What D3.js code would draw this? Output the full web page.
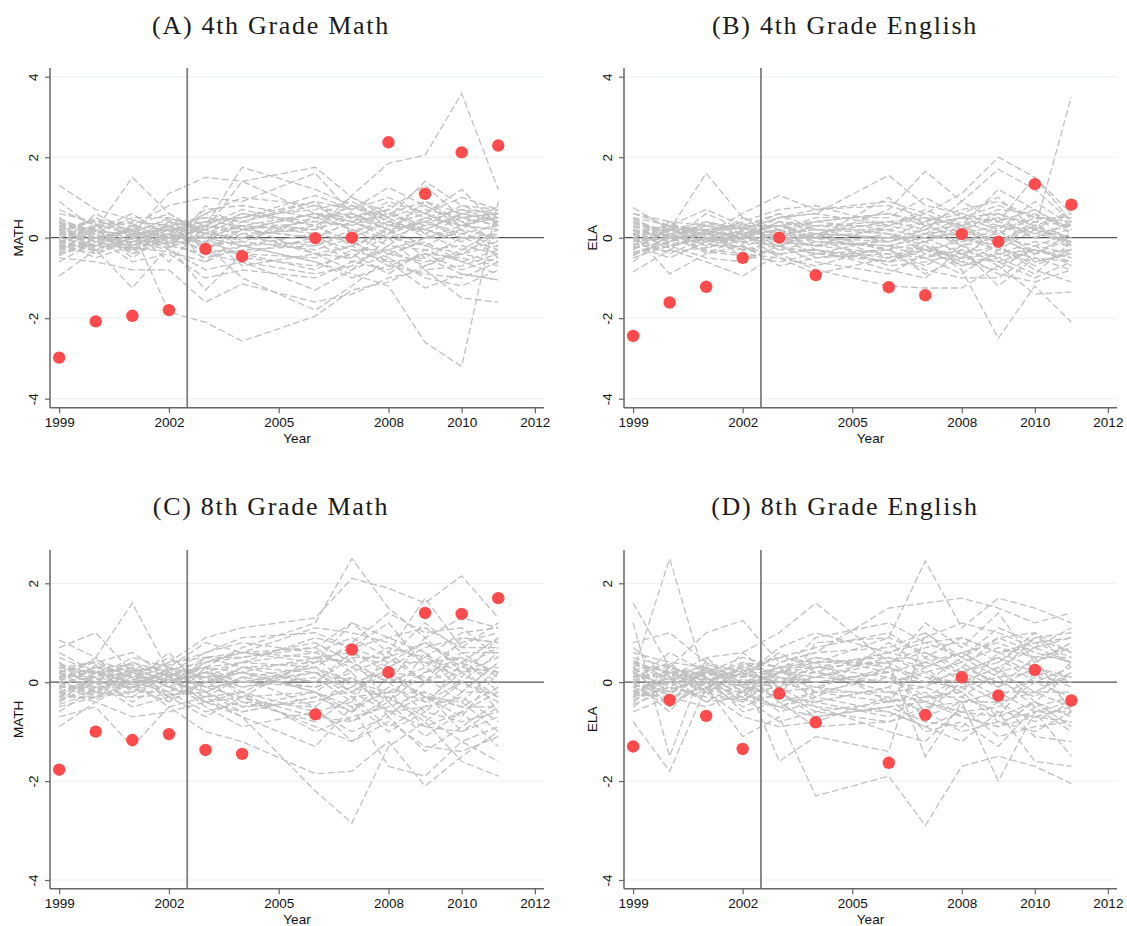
<!DOCTYPE html>
<html>
<head>
<meta charset="utf-8">
<script src="https://cdn.jsdelivr.net/npm/d3@7"></script>
<style>
  html, body { margin: 0; padding: 0; background: #fff; }
  svg { display: block; }
</style>
</head>
<body>
<svg id="chart" width="1127" height="926"></svg>
<script>
// Years observed (no 2005 wave)
const years = [1999, 2000, 2001, 2002, 2003, 2004, 2006, 2007, 2008, 2009, 2010, 2011];
const xTickValues = [1999, 2002, 2005, 2008, 2010, 2012];
const treatmentBreak = 2002.5;

// Treated-unit gaps
const math4Treated = [-2.98, -2.08, -1.94, -1.80, -0.28, -0.46, -0.01, 0.00, 2.37, 1.09, 2.12, 2.29];
const ela4Treated  = [-2.44, -1.61, -1.22, -0.50, 0.00, -0.93, -1.23, -1.43, 0.09, -0.10, 1.33, 0.82];
const math8Treated = [-1.77, -1.00, -1.17, -1.05, -1.37, -1.45, -0.65, 0.66, 0.20, 1.40, 1.38, 1.70];
const ela8Treated  = [-1.30, -0.36, -0.68, -1.35, -0.23, -0.81, -1.63, -0.66, 0.10, -0.27, 0.25, -0.37];

// Placebo (donor-unit) gaps
const math4Placebo = [
  [1.30, 0.70, 0.45, 0.15, 0.40, 0.30, 0.60, 0.50, 0.20, 0.40, 0.10, 0.30],
  [0.90, 0.20, 1.50, 0.60, 0.10, 0.50, 0.90, 0.70, 1.25, 0.80, 0.30, 0.50],
  [-0.95, -0.30, -1.25, -0.20, -1.30, -0.40, -0.80, -0.30, -0.60, -1.25, -0.90, -1.05],
  [0.20, -0.10, 0.20, -1.85, -2.10, -2.57, -1.95, -1.30, -1.10, -0.70, -0.40, -0.60],
  [0.40, 0.10, -0.30, 0.10, 0.30, 1.75, 1.20, 0.80, 0.40, 0.20, 0.60, 0.40],
  [-0.20, 0.30, 0.10, 1.10, 1.50, 1.40, 1.75, 1.00, 0.50, 1.40, 0.80, 0.70],
  [0.10, 0.00, -0.20, 0.30, 0.50, 0.40, 0.20, 1.05, 1.85, 2.05, 3.58, 1.20],
  [0.00, -0.20, 0.10, 0.20, -0.40, -0.20, -0.60, -0.90, -1.20, -2.60, -3.20, 0.90],
  [-0.50, -0.60, -0.80, -0.80, -1.60, -1.15, -1.60, -1.40, -1.00, -0.80, -1.50, -1.60],
  [0.60, 0.40, 0.30, 0.80, 1.00, 0.90, 1.60, 0.60, 0.30, 0.60, 1.20, 0.30],
  [-0.30, 0.20, -0.50, 0.10, -0.20, -1.00, -1.80, -1.20, -0.50, -1.00, -1.20, -0.80],
  [0.30, -0.30, 0.00, 0.40, 0.20, 0.60, 0.40, 0.30, 0.60, 0.30, 0.50, 0.60],
  [-0.10, 0.10, -0.40, -0.10, -0.50, -0.30, -0.20, 0.10, -0.40, -0.10, -0.60, -0.30],
  [0.20, 0.40, 0.20, -0.30, 0.80, 0.20, 0.00, 0.40, 0.10, 0.90, 0.40, -0.10],
  [-0.40, -0.20, 0.30, 0.00, 0.00, -0.50, -0.70, -0.40, -0.90, -0.30, -0.20, -0.40],
  [0.50, 0.00, -0.10, 0.20, 0.30, 0.70, 0.30, 0.80, 0.50, 0.00, 0.30, 0.20],
  [0.00, 0.30, 0.40, 0.30, 0.10, 0.00, 0.50, 0.20, -0.20, 0.50, 0.70, 0.60],
  [-0.20, -0.40, -0.10, -0.30, -0.80, -0.60, -1.30, -0.80, -0.40, -0.60, -0.40, -0.20],
  [0.10, 0.50, 0.00, 0.10, 0.60, 1.00, 0.80, 0.30, 0.70, 1.30, 0.50, 0.30],
  [-0.60, -0.10, -0.30, 0.00, -0.30, 0.10, -0.40, -0.20, 0.20, -0.50, -0.90, -1.05],
  [0.30, 0.10, 0.50, 0.50, 0.20, -0.20, 0.10, -0.50, 0.30, 0.20, -0.10, 0.40],
  [-0.10, -0.50, -0.20, 0.00, -0.10, 0.20, 0.60, 0.40, 0.00, -0.20, 0.20, -0.50],
  [0.70, 0.30, 0.20, -0.20, 0.40, 0.50, 1.05, 0.70, 1.00, 0.60, 1.00, 0.70],
  [-0.30, 0.00, -0.60, -0.40, -1.00, -0.80, -1.00, -0.60, -0.80, -0.40, -0.50, -0.70],
  [0.20, -0.20, 0.30, 0.60, 0.00, 0.30, 0.20, 0.60, 0.20, 0.40, 0.00, 0.10],
  [0.00, 0.20, -0.20, 0.20, 0.20, -0.10, -0.30, 0.00, 0.40, 0.10, -0.30, 0.20],
  [-0.20, 0.60, 0.10, -0.10, 0.60, 0.40, 0.90, 0.10, 0.50, 0.80, 0.40, 0.50],
  [0.40, -0.40, 0.00, 0.30, -0.30, -0.40, 0.00, -0.30, -0.30, 0.00, 0.10, -0.20],
  [0.10, 0.00, 0.20, -0.60, 0.30, 0.20, 0.40, 0.80, 0.30, 0.20, 0.60, 0.40],
  [-0.40, 0.30, -0.30, 0.40, -0.60, 0.00, 0.30, -0.10, -0.60, -0.50, 0.00, 0.00],
  [0.30, 0.20, 0.60, 0.00, 0.20, 1.40, 0.60, 0.40, 0.90, 0.60, 0.20, 0.80],
  [-0.10, -0.30, 0.10, 0.50, 0.10, -0.70, -0.40, -0.80, 0.00, -0.80, -0.70, -0.40],
  [0.15, -0.10, 0.30, 0.20, 0.40, 0.50, 0.70, 0.90, 0.40, 0.70, 0.50, 0.30],
  [-0.25, 0.05, -0.20, 0.10, -0.10, -0.40, -0.50, -0.20, -0.70, -0.40, -0.80, -0.50],
  [0.05, 0.25, -0.05, -0.15, 0.30, 0.10, 0.20, 0.50, 0.80, 0.50, 0.30, 0.60],
  [-0.35, -0.15, 0.05, 0.25, 0.00, -0.20, -0.10, -0.60, -0.30, -0.70, -0.30, -0.10],
  [0.45, 0.15, -0.15, 0.35, 0.50, 0.20, 0.60, 0.20, 0.00, 0.30, 0.80, 0.50],
  [0.00, -0.25, 0.25, -0.05, -0.30, 0.20, 0.00, 0.40, 0.60, 0.20, 0.00, -0.30],
  [-0.15, 0.35, -0.35, 0.05, 0.20, 0.60, 0.30, -0.20, 0.10, 0.50, 0.30, 0.20],
  [0.25, 0.00, 0.15, 0.45, -0.20, -0.10, 0.50, 0.60, 0.20, -0.20, -0.40, 0.10],
  [-0.05, -0.35, 0.00, -0.25, 0.10, 0.30, -0.40, -0.50, 0.10, 0.40, 0.70, 0.40],
  [0.35, 0.20, -0.40, 0.00, 0.70, 0.80, 0.50, 1.00, 0.60, 0.90, 0.60, 0.70],
  [-0.45, 0.00, 0.20, -0.20, -0.40, -0.60, -0.90, -0.70, -0.20, -0.30, -0.60, -0.90],
  [0.10, 0.15, 0.10, 0.05, 0.00, 0.30, 0.10, -0.10, -0.50, 0.00, 0.20, 0.00],
  [-0.30, -0.05, -0.10, 0.30, 0.40, 0.00, -0.20, 0.20, 0.30, 0.60, 0.30, 0.50],
  [0.20, 0.45, 0.35, -0.10, -0.10, 0.40, 0.80, 0.50, 0.70, 0.10, 0.50, 0.60],
  [-0.20, -0.20, -0.25, -0.35, -0.60, -0.20, -0.60, -1.00, -0.70, -0.90, -1.00, -0.60]
];

const ela4Placebo = [
  [0.75, 0.20, 1.60, 0.50, 0.20, 0.40, 0.60, 0.30, 0.50, 0.80, 0.50, 0.30],
  [-0.85, -0.30, -0.60, -0.95, -0.40, -0.80, -1.20, -1.25, -1.25, -0.70, -1.40, -1.35],
  [0.10, -0.90, -0.40, 0.00, 0.20, -0.30, -0.60, -0.20, -0.80, -2.50, -1.20, -2.10],
  [0.20, 0.00, 0.10, 0.60, 1.05, 0.70, 0.90, 0.60, 1.10, 2.00, 1.50, 0.40],
  [0.00, 0.20, 0.40, 0.20, 0.50, 0.60, 1.55, 0.80, 0.60, 1.00, 0.20, 3.50],
  [0.40, 0.10, -0.20, 0.30, 0.30, 0.00, 0.70, 1.65, 0.90, 1.70, 1.20, 0.40],
  [-0.50, -0.20, 0.00, -0.30, -0.20, -0.60, -0.90, -0.40, -0.60, -0.20, -0.80, -1.10],
  [0.60, 0.30, 0.20, 0.00, 0.40, 0.30, 0.40, 0.20, 0.90, 0.40, 0.70, 0.10],
  [-0.20, 0.40, 0.30, 0.10, -0.30, -0.10, -0.20, -0.50, -0.30, -0.60, -0.30, -0.60],
  [0.30, -0.10, 0.60, 0.20, 0.00, -0.40, 0.00, 0.40, -0.20, 0.30, 0.00, 0.20],
  [-0.10, 0.10, -0.20, -0.20, -0.70, -0.50, -0.40, -0.80, -1.00, -1.00, -0.40, -0.30],
  [0.50, 0.00, 0.10, 0.40, 0.70, 0.80, 0.30, 0.60, 0.20, 0.60, 0.30, 0.60],
  [-0.40, -0.20, -0.50, -0.60, -0.20, 0.00, -0.70, -0.60, -0.40, -0.90, -1.10, -0.80],
  [0.00, 0.30, 0.00, -0.10, 0.10, 0.20, 0.20, 0.00, 0.40, 0.10, 0.60, -0.20],
  [0.20, -0.30, 0.20, 0.30, -0.10, 0.10, -0.30, 0.30, 0.00, -0.30, 0.20, 0.00],
  [-0.30, 0.20, -0.10, 0.00, 0.40, -0.20, 0.10, -0.20, -0.50, 0.20, -0.60, -0.40],
  [0.40, 0.00, 0.40, 0.10, 0.20, 0.50, 0.50, 1.00, 0.50, 0.20, 0.90, 0.30],
  [-0.60, 0.10, -0.30, -0.40, -0.50, -0.90, -0.50, -0.30, -0.70, -0.40, -0.30, -0.50],
  [0.10, -0.10, 0.30, 0.20, 0.60, 0.20, -0.10, 0.10, 0.20, 0.50, 0.00, 0.40],
  [-0.20, 0.30, -0.40, -0.20, 0.00, 0.00, 0.20, -0.40, 0.00, -0.20, 0.30, -0.20],
  [0.30, 0.20, 0.10, -0.30, -0.40, -0.30, -0.80, -1.00, -0.30, -1.20, -0.50, -0.60],
  [0.00, -0.40, 0.00, 0.10, 0.30, 0.40, 0.60, 0.40, 0.70, 0.90, 0.50, 0.50],
  [-0.10, 0.10, 0.20, 0.00, -0.10, -0.20, -0.10, 0.20, -0.20, 0.00, -0.20, 0.10],
  [0.60, 0.40, -0.10, 0.50, 0.00, 0.30, 0.10, -0.10, 0.30, -0.10, 0.40, -0.30],
  [-0.40, -0.10, 0.10, -0.10, 0.10, -0.50, -0.30, -0.70, -0.20, -0.50, -0.90, -0.10],
  [0.20, 0.00, -0.30, 0.20, 0.50, 0.60, 0.30, 0.70, 0.30, 1.20, 0.70, 0.20],
  [-0.30, 0.20, 0.20, -0.50, -0.30, -0.30, -0.50, -0.20, -0.60, -0.80, -0.20, -0.70],
  [0.10, -0.20, 0.00, 0.00, 0.00, 0.10, 0.00, 0.00, 0.10, 0.30, 0.10, -0.10],
  [0.50, 0.30, 0.70, 0.30, 0.60, 0.00, 1.00, 0.30, 0.50, 0.40, 1.50, 0.60],
  [-0.20, -0.50, -0.10, 0.10, -0.50, -0.70, -0.20, -0.30, -0.40, -0.20, -0.70, -0.30],
  [0.15, 0.05, -0.10, 0.20, 0.30, 0.10, 0.40, 0.50, 0.30, 0.70, 0.60, 0.20],
  [-0.25, -0.10, 0.20, 0.00, -0.20, -0.40, -0.60, -0.30, -0.50, -0.40, -0.60, -0.40],
  [0.35, 0.20, 0.00, -0.15, 0.20, 0.00, -0.30, -0.10, 0.20, -0.10, 0.30, 0.00],
  [-0.05, -0.25, 0.15, 0.25, 0.00, 0.30, 0.30, 0.50, 0.00, 0.40, 0.10, 0.30],
  [0.25, 0.15, 0.30, -0.05, 0.40, 0.20, 0.10, -0.30, -0.10, 0.10, 0.50, 0.40],
  [-0.45, 0.05, -0.15, -0.30, -0.10, -0.20, -0.40, -0.50, -0.90, -0.30, -0.50, -0.80],
  [0.05, 0.35, 0.05, 0.15, -0.20, 0.10, 0.00, 0.20, 0.30, -0.40, -0.10, -0.20],
  [-0.15, -0.35, -0.25, 0.05, 0.20, -0.10, -0.20, 0.00, -0.40, 0.00, -0.40, 0.10],
  [0.45, 0.10, 0.20, 0.35, 0.10, 0.40, 0.20, 0.40, 0.60, 0.30, 0.20, 0.70],
  [0.00, -0.15, -0.05, -0.25, -0.40, -0.30, -0.60, -0.50, -0.20, -0.70, -0.30, -0.50],
  [-0.30, 0.25, 0.10, 0.10, 0.30, 0.00, -0.10, 0.10, -0.10, 0.20, -0.40, 0.00],
  [0.20, -0.05, 0.35, 0.25, 0.00, -0.20, 0.30, 0.10, 0.50, 0.60, 0.20, -0.10],
  [-0.10, 0.00, -0.35, -0.45, -0.60, -0.40, -0.30, -0.90, -0.50, -0.60, -1.00, -0.60],
  [0.10, 0.30, 0.15, 0.05, 0.50, 0.70, 0.80, 0.50, 0.30, 0.50, 0.40, 0.30],
  [-0.35, -0.20, 0.00, -0.10, -0.20, 0.10, -0.50, -0.10, -0.70, -0.50, -0.20, -0.40]
];

const math8Placebo = [
  [0.85, 0.50, 1.60, 0.20, 0.30, 0.70, 1.20, 2.50, 1.50, 0.90, 1.30, 1.10],
  [0.70, 1.00, 0.20, 0.40, 0.90, 1.10, 1.30, 2.10, 1.90, 1.60, 2.15, 1.30],
  [-0.90, -0.40, -0.70, -0.60, -0.40, -0.70, -2.20, -2.85, -1.30, -0.80, -1.60, -1.90],
  [-0.70, -0.50, -1.30, -0.50, -1.00, -1.20, -1.85, -1.80, -1.20, -2.10, -1.50, -1.00],
  [0.30, 0.40, 0.60, 0.10, 0.50, 0.50, 0.70, 1.20, 0.60, 1.70, 0.70, 1.20],
  [0.00, -0.20, 0.20, -0.10, -0.30, -0.70, -1.30, -0.50, -1.70, -1.90, -1.20, -1.60],
  [-0.20, 0.10, -0.40, 0.00, 0.20, -0.20, 0.40, 0.50, -0.40, 0.60, -0.20, 0.40],
  [0.10, 0.30, 0.10, 0.30, 0.10, 0.40, 0.90, 0.70, 1.20, 0.30, 0.80, 1.00],
  [-0.30, 0.20, 0.00, 0.60, -0.20, 0.10, -0.50, -1.20, -0.60, -0.90, -1.00, -0.50],
  [0.40, -0.20, 0.30, -0.30, 0.00, 0.30, 0.20, -0.20, 0.30, -0.40, 0.20, -0.30],
  [-0.50, -0.30, -0.20, -0.20, -0.60, -0.40, -0.80, -0.30, -0.90, -0.50, -0.30, -0.80],
  [0.20, 0.00, 0.40, 0.20, 0.60, 0.80, 0.60, 0.90, 0.50, 1.20, 0.60, 0.60],
  [0.00, 0.50, -0.10, 0.10, -0.40, -0.60, -0.30, -0.60, 0.10, -0.30, -0.70, 0.20],
  [-0.10, -0.10, 0.30, -0.40, 0.30, 0.00, 0.30, 0.00, -0.20, 0.20, 0.40, 0.00],
  [0.60, 0.20, 0.00, 0.00, 0.40, 0.60, 1.10, 1.00, 0.80, 0.40, 0.50, 0.20],
  [-0.40, 0.00, -0.50, -0.30, -0.70, -0.30, -0.20, -0.80, -0.40, -1.10, -0.60, -1.30],
  [0.20, 0.40, 0.10, 0.50, 0.00, 0.20, -0.20, 0.30, 0.00, -0.60, 0.00, -0.40],
  [0.00, -0.30, 0.20, -0.10, 0.20, -0.10, 0.10, -0.40, 0.60, 0.00, 0.90, 0.80],
  [-0.60, -0.10, -0.10, 0.10, -0.50, -0.90, -0.60, -1.00, -0.70, -1.40, -0.90, -0.40],
  [0.30, 0.10, 0.50, 0.30, 0.80, 0.60, 0.70, 0.20, 0.50, 0.80, 0.30, 0.70],
  [0.10, 0.20, -0.30, 0.20, -0.10, 0.30, 0.00, 0.60, 0.20, 0.10, -0.40, 0.30],
  [-0.20, -0.40, 0.00, -0.20, 0.10, -0.50, -0.40, -0.10, -0.30, -0.80, -0.20, -0.20],
  [0.50, 0.20, 0.30, 0.00, 0.20, 0.40, 0.30, 0.80, 1.40, 1.00, 1.10, 0.50],
  [-0.30, 0.00, 0.00, -0.50, -0.30, -0.20, -1.00, -0.70, -0.50, -0.20, -1.00, -0.70],
  [0.00, 0.10, 0.40, 0.10, 0.30, -0.30, 0.50, -0.10, 0.40, 0.40, 0.10, 0.90],
  [0.20, -0.20, -0.20, 0.30, -0.20, 0.10, -0.10, 0.20, -0.70, 0.00, 0.60, 0.10],
  [-0.10, 0.30, 0.20, -0.10, 0.40, 0.50, 0.80, 0.40, 0.00, 0.90, 0.20, 0.50],
  [0.40, 0.00, -0.10, 0.20, -0.10, 0.00, 0.20, -0.30, -0.20, -0.20, -0.50, -0.10],
  [-0.40, 0.20, 0.10, -0.30, 0.00, -0.40, -0.50, 0.10, -0.60, -0.50, 0.40, -0.60],
  [0.10, -0.10, 0.00, 0.40, 0.50, 0.30, 0.40, 1.20, 0.90, 0.60, 0.00, 0.60],
  [0.15, 0.10, -0.05, 0.25, 0.40, 0.60, 0.50, 0.60, 0.30, 0.70, 0.90, 0.80],
  [-0.25, 0.05, 0.20, -0.10, -0.40, -0.20, -0.60, -0.40, -1.00, -0.60, -0.80, -0.60],
  [0.05, 0.25, 0.00, 0.15, 0.30, 0.40, 0.60, 0.30, 0.70, 0.50, 1.00, 1.10],
  [-0.35, -0.15, 0.10, 0.05, -0.20, -0.50, -0.20, -0.50, -0.20, -0.90, -0.60, -0.20],
  [0.30, 0.20, -0.15, 0.30, 0.10, 0.20, 0.50, 0.40, 0.00, 0.30, -0.20, 0.40],
  [0.00, -0.25, 0.25, 0.00, 0.20, 0.00, -0.10, 0.10, -0.40, 0.20, 0.50, -0.20],
  [-0.15, 0.35, -0.20, 0.10, -0.30, 0.10, 0.30, -0.20, 0.20, -0.30, -0.50, -0.50],
  [0.25, -0.05, 0.15, -0.20, 0.50, 0.60, 0.40, 0.70, 0.40, 0.80, 0.40, 0.90],
  [-0.05, -0.35, 0.05, 0.20, -0.10, -0.30, -0.70, -0.80, -0.30, -0.70, -1.20, -0.90],
  [0.35, 0.15, 0.30, 0.00, 0.30, 0.20, 0.00, 0.50, 0.50, 0.00, 0.30, 0.20],
  [-0.45, -0.20, -0.30, -0.25, -0.20, -0.60, -0.30, -0.20, -0.60, -0.30, -0.40, -1.00],
  [0.10, 0.30, 0.35, 0.10, 0.10, -0.10, 0.20, 0.00, 0.20, 0.50, 0.20, 0.30],
  [-0.20, 0.00, -0.10, -0.40, 0.00, 0.20, -0.20, -0.60, -0.10, -0.40, 0.00, -0.30],
  [0.20, 0.45, 0.20, 0.35, 0.60, 0.90, 1.00, 0.70, 0.90, 1.10, 0.70, 0.70],
  [-0.30, -0.30, 0.00, 0.15, -0.40, -0.30, -0.90, -1.20, -0.80, -1.30, -1.40, -1.10]
];

const ela8Placebo = [
  [1.60, 0.30, 1.00, 1.25, 0.40, 0.60, 1.50, 1.60, 1.70, 1.50, 1.20, 1.40],
  [0.20, 2.50, 0.00, 0.30, 0.20, 0.40, 0.90, 2.45, 1.10, 1.70, 1.50, 1.20],
  [-0.80, -1.80, -0.10, -1.10, -0.70, -2.30, -1.90, -2.90, -1.70, -1.50, -1.70, -2.05],
  [1.20, -1.50, 0.50, 0.60, 1.00, 1.60, 0.40, -1.50, -0.40, -2.00, -0.60, -1.50],
  [0.80, 1.00, 0.40, 0.20, -1.60, -1.10, -1.40, 1.00, 0.50, 0.90, 1.00, 0.60],
  [-0.40, 0.20, -0.20, -0.40, 0.20, 0.90, 1.20, 0.80, 0.90, 0.60, 0.70, 1.10],
  [0.00, -0.60, 0.30, -0.20, -0.50, -0.30, -0.60, -0.90, -1.20, -0.60, -1.60, -1.70],
  [0.50, 0.30, 0.10, 0.40, 0.30, 0.50, 0.30, 1.20, 0.70, 1.40, 0.40, 0.80],
  [-0.20, 0.10, -0.40, -0.30, -0.80, -0.60, -0.40, -0.20, -0.70, -0.90, -0.40, -0.90],
  [0.30, -0.20, 0.20, 0.10, 0.60, 0.20, 0.60, 0.40, 0.20, 0.40, 1.00, 0.30],
  [-0.50, 0.00, 0.00, -0.50, -0.20, -0.10, -0.30, -0.60, 0.00, -0.40, -0.80, -0.40],
  [0.10, 0.40, -0.20, 0.20, 0.00, 0.30, 0.10, 0.00, 0.50, 0.10, 0.20, -0.10],
  [-0.10, -0.40, 0.30, 0.00, 0.30, -0.40, -0.10, 0.30, -0.30, 0.20, -0.20, 0.20],
  [0.70, 0.10, 0.50, -0.10, -0.30, 0.80, 0.90, 0.60, 0.30, 0.90, 0.60, 0.40],
  [-0.30, 0.30, 0.10, -0.60, -0.40, -0.90, -0.80, -0.50, -0.40, -0.20, -0.60, -0.60],
  [0.20, -0.10, -0.30, 0.40, 0.10, 0.00, 0.20, -0.30, 0.10, -0.30, 0.10, 0.00],
  [0.00, 0.60, 0.20, 0.30, 0.50, 0.40, 0.40, 0.70, 0.80, 0.40, 0.90, 0.60],
  [-0.60, -0.30, -0.50, -0.20, -0.10, -0.50, -1.00, -1.20, -0.50, -1.10, -0.90, -0.80],
  [0.40, 0.00, 0.40, 0.00, 0.20, 0.10, 0.50, 0.20, -0.20, 0.60, 0.30, 0.10],
  [-0.20, 0.20, -0.10, 0.20, -0.40, -0.20, -0.20, -0.40, -0.60, -0.50, 0.00, -0.30],
  [0.30, -0.50, 0.00, -0.30, 0.40, 0.60, 0.70, 1.00, 0.40, 0.70, 0.50, 0.70],
  [-0.40, 0.10, 0.20, -0.10, -0.20, -0.70, -0.50, -0.80, -0.90, -0.40, -1.10, -1.20],
  [0.10, 0.20, -0.20, 0.60, 0.00, 0.20, 0.00, -0.10, 0.30, 0.00, -0.30, 0.40],
  [0.00, -0.20, 0.10, -0.40, 0.10, -0.30, 0.30, 0.00, -0.10, -0.70, 0.20, -0.50],
  [0.60, 0.40, 0.30, 0.10, 0.70, 1.00, 0.60, 0.90, 1.20, 1.00, 0.70, 0.90],
  [-0.10, 0.00, -0.40, 0.00, -0.60, -0.40, -0.70, -0.30, -0.20, -0.80, -0.60, -0.40],
  [0.20, 0.30, 0.00, 0.30, -0.10, 0.40, -0.40, 0.50, 0.00, 0.30, -0.40, 0.20],
  [-0.30, -0.10, 0.30, -0.20, 0.20, 0.00, 0.20, -0.60, 0.20, -0.10, 0.50, -0.60],
  [0.40, 0.20, 0.20, 0.50, 0.30, -0.20, 0.80, 0.30, 0.60, 0.20, 0.90, 1.00],
  [-0.20, -0.30, -0.20, -0.70, -0.90, -0.80, -0.30, -1.00, -0.80, -1.30, -0.50, -1.00],
  [0.15, -0.05, 0.20, 0.10, 0.30, 0.40, 0.50, 0.30, 0.60, 0.80, 0.50, 0.50],
  [-0.25, 0.10, -0.15, -0.30, -0.30, -0.50, -0.60, -0.90, -0.60, -0.70, -0.40, -0.70],
  [0.35, 0.20, 0.05, 0.25, 0.10, -0.10, 0.30, 0.10, 0.00, 0.30, 0.70, 0.40],
  [-0.05, -0.25, 0.25, -0.05, 0.20, 0.20, -0.20, -0.10, -0.40, -0.20, -0.20, -0.20],
  [0.25, 0.35, -0.10, 0.05, -0.10, 0.10, 0.40, 0.60, 0.20, 0.50, 0.20, 0.10],
  [-0.45, -0.15, 0.10, -0.25, -0.50, -0.20, -0.40, -0.30, -0.30, -0.60, -0.70, -0.50],
  [0.05, 0.15, -0.25, 0.35, 0.20, 0.50, 0.20, 0.40, 0.60, 0.20, 0.40, 0.70],
  [-0.15, -0.45, 0.00, -0.15, 0.00, -0.20, 0.10, -0.40, -0.10, 0.10, -0.50, -0.30],
  [0.45, 0.05, 0.35, 0.20, 0.50, 0.70, 1.00, 0.50, 0.90, 0.60, 0.80, 0.50],
  [0.00, 0.25, -0.05, -0.05, -0.30, -0.40, -0.10, -0.70, -0.40, -0.40, -0.20, -0.50],
  [-0.30, 0.05, 0.15, 0.15, 0.00, 0.10, 0.00, 0.20, 0.40, -0.10, 0.30, 0.00],
  [0.20, -0.30, -0.10, -0.20, 0.30, 0.30, 0.40, 0.00, 0.20, 0.50, 0.00, 0.30],
  [-0.10, 0.00, 0.00, 0.25, -0.20, -0.60, -0.80, -0.60, -1.00, -0.80, -1.00, -0.60],
  [0.10, 0.20, 0.30, -0.10, 0.20, 0.30, 0.60, 0.80, 0.50, 1.10, 0.80, 0.90],
  [-0.35, -0.10, -0.30, -0.35, -0.50, -0.70, -0.50, -0.40, -0.70, -0.90, -0.70, -0.80]
];

const topYTicks = [-4, -2, 0, 2, 4];
const bottomYTicks = [-4, -2, 0, 2];

const panels = [
  { title: "(A) 4th Grade Math",    ylab: "MATH", treated: math4Treated, placebo: math4Placebo, col: 0, row: 0 },
  { title: "(B) 4th Grade English", ylab: "ELA",  treated: ela4Treated,  placebo: ela4Placebo,  col: 1, row: 0 },
  { title: "(C) 8th Grade Math",    ylab: "MATH", treated: math8Treated, placebo: math8Placebo, col: 0, row: 1 },
  { title: "(D) 8th Grade English", ylab: "ELA",  treated: ela8Treated,  placebo: ela8Placebo,  col: 1, row: 1 }
];

// Panel geometry
const cols = [
  { left: 50,  right: 544,  titleX: 271 },
  { left: 624, right: 1117, titleX: 845 }
];
const rows = [
  { top: 68,  bottom: 407.7, domain: [-4, 4], range: [398.7, 76.7], ticks: topYTicks,    titleY: 34 },
  { top: 550, bottom: 888.7, domain: [-4, 2], range: [880, 583.3],  ticks: bottomYTicks, titleY: 515 }
];

const svg = d3.select("#chart");
const sansFont = "'Liberation Sans', Arial, Helvetica, sans-serif";
const serifFont = "'Liberation Serif', 'Times New Roman', serif";

panels.forEach(p => {
  const c = cols[p.col], r = rows[p.row];
  const x = d3.scaleLinear().domain([1998.75, 2012.25]).range([c.left, c.right]);
  const y = d3.scaleLinear().domain(r.domain).range(r.range);
  const g = svg.append("g");

  // title
  g.append("text")
    .attr("x", c.titleX).attr("y", r.titleY)
    .attr("text-anchor", "middle")
    .style("font-family", serifFont)
    .style("font-size", "26px")
    .style("letter-spacing", "1.7px")
    .attr("fill", "#1a1a1a")
    .text(p.title);

  // horizontal grid
  g.append("g").selectAll("line").data(r.ticks).join("line")
    .attr("x1", c.left).attr("x2", c.right)
    .attr("y1", d => y(d)).attr("y2", d => y(d))
    .attr("stroke", "#e8f1f1").attr("stroke-width", 1);

  // zero reference line
  g.append("line")
    .attr("x1", c.left).attr("x2", c.right)
    .attr("y1", y(0)).attr("y2", y(0))
    .attr("stroke", "#555").attr("stroke-width", 1.3);

  // placebo gap paths
  const line = d3.line().x((d, i) => x(years[i])).y(d => y(d));
  g.append("g").selectAll("path").data(p.placebo).join("path")
    .attr("d", line)
    .attr("fill", "none")
    .attr("stroke", "#c0c0c0")
    .attr("stroke-width", 1.3)
    .attr("stroke-dasharray", "7,3");

  // treatment-timing line
  g.append("line")
    .attr("x1", x(treatmentBreak)).attr("x2", x(treatmentBreak))
    .attr("y1", r.top).attr("y2", r.bottom)
    .attr("stroke", "#808080").attr("stroke-width", 1.8);

  // treated unit markers
  g.append("g").selectAll("circle").data(p.treated).join("circle")
    .attr("cx", (d, i) => x(years[i]))
    .attr("cy", d => y(d))
    .attr("r", 6.2)
    .attr("fill", "#ff4b4b");

  // y axis
  const yAxis = d3.axisLeft(y).tickValues(r.ticks).tickSize(5).tickFormat(d3.format("d"));
  const ya = g.append("g").attr("transform", `translate(${c.left},0)`).call(yAxis);
  ya.select(".domain").attr("d", `M0,${r.top}V${r.bottom}`).attr("stroke", "#666").attr("stroke-width", 1.5);
  ya.selectAll(".tick line").attr("stroke", "#666").attr("stroke-width", 1.2);
  ya.selectAll(".tick text")
    .attr("x", null)
    .attr("text-anchor", "middle")
    .attr("transform", "translate(-17,0) rotate(-90)")
    .attr("dy", "0.35em")
    .style("font-family", sansFont).style("font-size", "13.5px").attr("fill", "#111")
    .text(d => d3.format("d")(d).replace("\u2212", "-"));

  // x axis
  const xAxis = d3.axisBottom(x).tickValues(xTickValues).tickSize(5.5).tickFormat(d3.format("d"));
  const xa = g.append("g").attr("transform", `translate(0,${r.bottom})`).call(xAxis);
  xa.select(".domain").attr("d", `M${c.left},0H${c.right}`).attr("stroke", "#666").attr("stroke-width", 1.5);
  xa.selectAll(".tick line").attr("stroke", "#666").attr("stroke-width", 1.2);
  xa.selectAll(".tick text")
    .attr("y", 19.8).attr("dy", null)
    .style("font-family", sansFont).style("font-size", "13.5px").attr("fill", "#111");

  // axis titles
  g.append("text")
    .attr("x", (c.left + c.right) / 2).attr("y", r.bottom + 35.5)
    .attr("text-anchor", "middle")
    .style("font-family", sansFont).style("font-size", "13.5px").attr("fill", "#111")
    .text("Year");
  g.append("text")
    .attr("transform", `translate(${c.left - 32},${(r.top + r.bottom) / 2}) rotate(-90)`)
    .attr("text-anchor", "middle").attr("dy", "0.35em")
    .style("font-family", sansFont).style("font-size", "13.5px").attr("fill", "#111")
    .text(p.ylab);
});
</script>
</body>
</html>
